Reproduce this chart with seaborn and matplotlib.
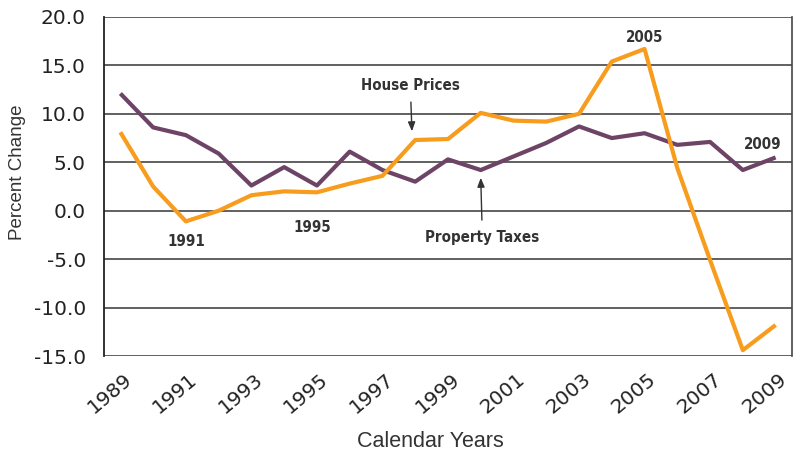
import numpy as np
import pandas as pd
import matplotlib
matplotlib.use("Agg")
import matplotlib.pyplot as plt
import matplotlib.transforms as mtransforms
from matplotlib import font_manager
import seaborn as sns

# --- data ---
years = list(range(1989, 2010))
house_prices = [8.1, 2.5, -1.1, 0.0, 1.6, 2.0, 1.9, 2.8, 3.6, 7.3, 7.4, 10.1,
                9.3, 9.2, 10.0, 15.4, 16.7, 4.4, -5.1, -14.4, -11.8]
property_taxes = [12.1, 8.6, 7.8, 5.9, 2.6, 4.5, 2.6, 6.1, 4.2, 3.0, 5.3, 4.2,
                  5.6, 7.0, 8.7, 7.5, 8.0, 6.8, 7.1, 4.2, 5.5]
series_names = ["House Prices", "Property Taxes"]
y_ticks = [-15.0, -10.0, -5.0, 0.0, 5.0, 10.0, 15.0, 20.0]
x_ticks = list(range(1989, 2010, 2))

ORANGE = "#F89C1E"
PURPLE = "#6E4466"
GRID = "#454545"
TEXT = "#333333"

df = pd.DataFrame({
    "year": years * 2,
    "value": house_prices + property_taxes,
    "series": [series_names[0]] * len(years) + [series_names[1]] * len(years),
})

sns.set_style("white")
plt.rcParams["font.family"] = ["DejaVu Sans"]

# condensed face for the callouts, if one is around
fonts = font_manager.fontManager.ttflist
if any(f.name == "Liberation Sans Narrow" for f in fonts):
    note_font = dict(family=["Liberation Sans Narrow"], fontsize=11.5)
elif any(f.name == "DejaVu Sans" and f.stretch == "condensed" for f in fonts):
    note_font = dict(family=["DejaVu Sans"], fontstretch="condensed", fontsize=10.8)
else:
    note_font = dict(family=["DejaVu Sans"], fontsize=9.5)

fig = plt.figure(figsize=(7.95, 4.53), dpi=100)
ax = fig.add_axes([0.1308, 0.2141, 0.9962 - 0.1308, 0.9625 - 0.2141])

sns.lineplot(data=df, x="year", y="value", hue="series",
             palette={series_names[0]: ORANGE, series_names[1]: PURPLE},
             hue_order=[series_names[1], series_names[0]],
             linewidth=3.0, legend=False, ax=ax, solid_capstyle="butt")

ax.set_xlim(1988.5, 2009.5)
ax.set_ylim(-15, 20)
ax.set_yticks(y_ticks)
ax.set_yticklabels([f"{v:.1f}" for v in y_ticks])

# rotated year labels, nudged right/down of each tick like the original
ax.set_xticks(x_ticks)
ax.set_xticklabels([])
shift = mtransforms.ScaledTranslation(9 / 100, -21 / 100, fig.dpi_scale_trans)
for yr in x_ticks:
    ax.text(yr, 0, str(yr), transform=ax.get_xaxis_transform() + shift,
            rotation=40, rotation_mode="anchor", ha="right", va="center",
            fontsize=14.5, color="#222222")

for v in y_ticks:
    ax.axhline(v, color=GRID, lw=1.2, zorder=0)

ax.tick_params(axis="y", length=10, width=1.2, color=GRID, labelsize=14.5,
               labelcolor="#222222", pad=3)
ax.tick_params(axis="x", length=0)

for side in ["top", "bottom"]:
    ax.spines[side].set_visible(False)
ax.spines["left"].set_color("#222222")
ax.spines["left"].set_linewidth(1.3)
ax.spines["right"].set_color(GRID)
ax.spines["right"].set_linewidth(1.2)

ax.set_xlabel("Calendar Years", family=["Liberation Sans", "DejaVu Sans"],
              fontsize=15.5, color=TEXT, va="center")
ax.xaxis.set_label_coords((430 - 104) / 688, (356 - 441) / 339)
ax.set_ylabel("Percent Change", family=["Liberation Sans", "DejaVu Sans"],
              fontsize=13.5, color=TEXT, va="center")
ax.yaxis.set_label_coords((18 - 104) / 688, (356 - 172) / 339)

note = dict(fontweight="bold", color=TEXT, ha="center", va="center", **note_font)
arrow = dict(arrowstyle="-|>,head_length=0.5,head_width=0.2",
             color=TEXT, lw=1.0, shrinkB=0)
ax.annotate("House Prices", xy=(1997.9, 8.2), xytext=(1997.85, 12.9),
            arrowprops=dict(shrinkA=4, **arrow), **note)
ax.annotate("Property Taxes", xy=(2000.0, 3.4), xytext=(2000.05, -2.8),
            arrowprops=dict(shrinkA=5, **arrow), **note)
ax.text(1991.0, -3.2, "1991", **note)
ax.text(1994.85, -1.7, "1995", **note)
ax.text(2005.0, 17.9, "2005", **note)
ax.text(2008.6, 6.8, "2009", **note)

fig.savefig("out.png", dpi=100)
